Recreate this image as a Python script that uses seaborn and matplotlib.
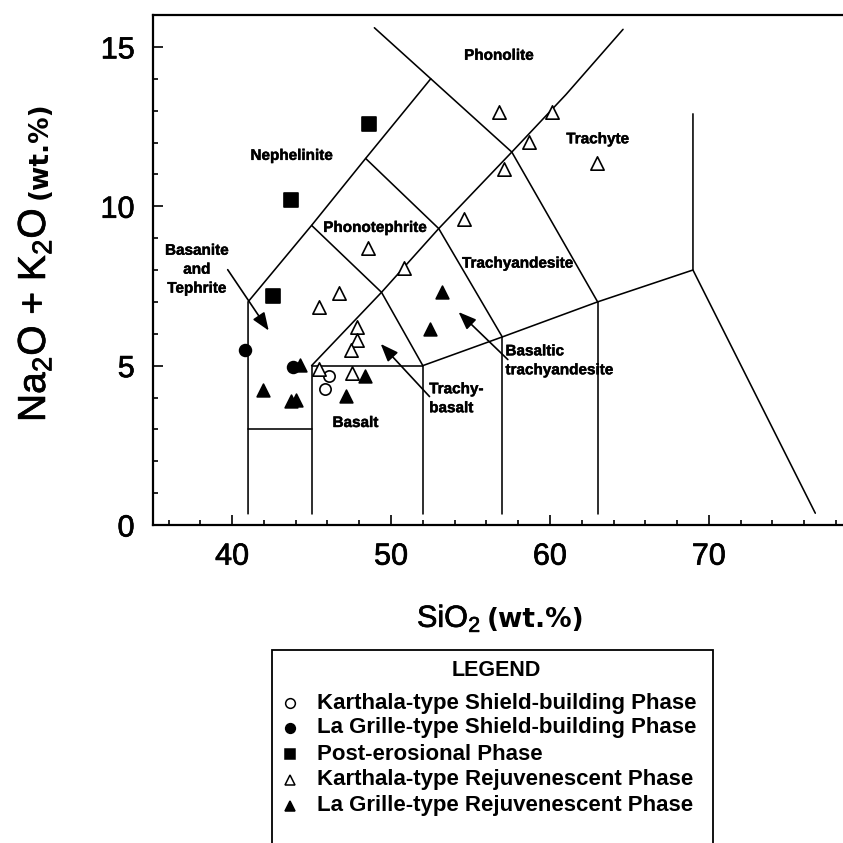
import matplotlib
matplotlib.use("Agg")
import matplotlib.pyplot as plt
import matplotlib.patheffects as pe
import numpy as np
import pandas as pd
import seaborn as sns
from matplotlib.lines import Line2D
from matplotlib.patches import Rectangle
from matplotlib.ticker import MultipleLocator

# ---------------- sample compositions (wt.%) ----------------
karthala_shield_sio2 = [46.10, 45.87]
karthala_shield_alk = [4.68, 4.26]

lagrille_shield_sio2 = [40.84, 43.82]
lagrille_shield_alk = [5.50, 4.96]

post_erosional_sio2 = [48.64, 43.71, 42.56]
post_erosional_alk = [12.57, 10.21, 7.18]

karthala_rejuv_sio2 = [56.78, 60.11, 58.67, 57.09, 62.97, 54.58, 48.53, 50.84,
                       46.71, 45.49, 47.84, 47.84, 47.49, 45.45, 47.55]
karthala_rejuv_alk = [12.96, 12.96, 12.01, 11.16, 11.35, 9.61, 8.70, 8.07,
                      7.28, 6.84, 6.21, 5.79, 5.50, 4.90, 4.77]

lagrille_rejuv_sio2 = [53.22, 52.42, 44.28, 48.33, 41.97, 43.71, 44.03, 47.17]
lagrille_rejuv_alk = [7.30, 6.15, 5.03, 4.68, 4.24, 3.88, 3.93, 4.06]

phase_names = [
    "Karthala-type Shield-building Phase",
    "La Grille-type Shield-building Phase",
    "Post-erosional Phase",
    "Karthala-type Rejuvenescent Phase",
    "La Grille-type Rejuvenescent Phase",
]
phase_sio2 = [karthala_shield_sio2, lagrille_shield_sio2, post_erosional_sio2,
              karthala_rejuv_sio2, lagrille_rejuv_sio2]
phase_alk = [karthala_shield_alk, lagrille_shield_alk, post_erosional_alk,
             karthala_rejuv_alk, lagrille_rejuv_alk]
phase_markers = ["o", "o", "s", "^", "^"]
phase_filled = [False, True, True, False, True]
phase_sizes = [66, 72, 100, 92, 84]

# ---------------- TAS classification boundaries ----------------
tas_boundaries = [
    [(41, 0.35), (41, 7), (45, 9.4), (48.4, 11.5), (52.5, 14)],
    [(41, 3), (45, 3)],
    [(45, 0.35), (45, 5), (52, 5), (52, 0.35)],
    [(45, 5), (49.4, 7.3), (53, 9.3), (57.6, 11.7), (61, 13.5), (64.6, 15.55)],
    [(45, 9.4), (49.4, 7.3), (52, 5)],
    [(48.4, 11.5), (53, 9.3), (57, 5.9)],
    [(48.95, 15.6), (52.5, 14), (57.6, 11.7), (63, 7)],
    [(52, 5), (57, 5.9), (63, 7), (69, 8)],
    [(57, 0.35), (57, 5.9)],
    [(63, 0.35), (63, 7)],
    [(69, 12.9), (69, 8), (76.7, 0.37)],
]

field_labels = [
    ("Phonolite", 56.8, 14.72, "center"),
    ("Trachyte", 63.0, 12.1, "center"),
    ("Nephelinite", 43.76, 11.58, "center"),
    ("Phonotephrite", 49.0, 9.32, "center"),
    ("Basanite\nand\nTephrite", 37.78, 8.01, "center"),
    ("Trachyandesite", 57.97, 8.2, "center"),
    ("Basaltic\ntrachyandesite", 57.2, 5.15, "left"),
    ("Trachy-\nbasalt", 52.4, 3.96, "left"),
    ("Basalt", 47.76, 3.2, "center"),
]

# arrow: (tail x, tail y, head x, head y)
field_arrows = [
    (39.72, 8.01, 42.30, 6.10),
    (52.42, 4.03, 49.35, 5.68),
    (57.35, 5.19, 54.25, 6.68),
]

# ---------------- figure ----------------
sns.set_style("ticks")
plt.rcParams["font.family"] = ["Liberation Sans", "DejaVu Sans"]
plt.rcParams["mathtext.fontset"] = "custom"
plt.rcParams["mathtext.rm"] = "Liberation Sans"
for key in ["text.color", "axes.labelcolor", "xtick.color", "ytick.color",
            "axes.edgecolor"]:
    plt.rcParams[key] = "black"

# slightly heavier strokes for the printed lettering
heavy = [pe.withStroke(linewidth=0.5, foreground="black")]
light = [pe.withStroke(linewidth=0.3, foreground="black")]

W = 843.0
fig = plt.figure(figsize=(8.43, 8.43), dpi=100)
fig.patch.set_facecolor("white")
ax = fig.add_axes([152.7 / W, 318 / W, (W - 152.7) / W, 510 / W])
ax.set_facecolor("white")

for seg in tas_boundaries:
    xs, ys = zip(*seg)
    ax.plot(xs, ys, color="black", lw=1.15, zorder=2, solid_joinstyle="miter")

rows = []
for name, xs, ys in zip(phase_names, phase_sio2, phase_alk):
    for x, y in zip(xs, ys):
        rows.append({"SiO2": x, "alkali": y, "phase": name})
df = pd.DataFrame(rows)

for name, mk, filled, size in zip(phase_names, phase_markers, phase_filled, phase_sizes):
    sub = df[df["phase"] == name]
    sns.scatterplot(data=sub, x="SiO2", y="alkali", marker=mk, s=size,
                    color="black" if filled else "white", edgecolor="black",
                    linewidth=1.2, ax=ax, legend=False, zorder=4)

for text, x, y, ha in field_labels:
    ax.text(x, y, text, ha=ha, va="center", fontsize=11, fontweight="bold",
            linespacing=1.45, color="black", zorder=5, path_effects=light)

for x0, y0, x1, y1 in field_arrows:
    ax.annotate("", xy=(x1, y1), xytext=(x0, y0),
                arrowprops=dict(arrowstyle="-|>,head_length=0.9,head_width=0.35",
                                color="black", lw=1.2, shrinkA=0, shrinkB=0,
                                mutation_scale=12), zorder=5)

ax.set_xlim(35, 35 + (W - 152.7) / 15.89)
ax.set_ylim(0, 16)
ax.xaxis.set_major_locator(MultipleLocator(10))
ax.xaxis.set_minor_locator(MultipleLocator(2))
ax.yaxis.set_major_locator(MultipleLocator(5))
ax.yaxis.set_minor_locator(MultipleLocator(1))
ax.tick_params(which="both", direction="in", width=1.2, colors="black",
               labelcolor="black", top=False, right=False)
ax.tick_params(which="major", length=7.5, labelsize=22)
ax.tick_params(axis="x", which="major", pad=12)
ax.tick_params(axis="y", which="major", pad=13)
ax.tick_params(which="minor", length=3.6)
ax.set_xlabel("")
ax.set_ylabel("")
for lab in ax.get_xticklabels() + ax.get_yticklabels():
    lab.set_path_effects(heavy)
for side in ["left", "bottom", "top"]:
    ax.spines[side].set_linewidth(1.6)
    ax.spines[side].set_color("black")
ax.spines["right"].set_visible(False)

# axis titles: formula plus smaller unit text
fig.canvas.draw()
renderer = fig.canvas.get_renderer()

ylab = fig.text(45 / W, (W - 422) / W, r"Na$_\mathregular{2}$O + K$_\mathregular{2}$O",
                rotation=90, rotation_mode="anchor", ha="left", va="baseline",
                fontsize=28, color="black", path_effects=heavy)
bb = ylab.get_window_extent(renderer)
fig.text(47 / W, (bb.y1 + 9) / W, "(wt.%)", rotation=90, rotation_mode="anchor",
         ha="left", va="baseline", fontsize=19, fontweight="bold",
         family="DejaVu Sans", color="black")

xlab = fig.text(417 / W, (W - 627) / W, r"SiO$_\mathregular{2}$", ha="left",
                va="baseline", fontsize=22, color="black", path_effects=heavy)
bb = xlab.get_window_extent(renderer)
fig.text((bb.x1 + 6) / W, (W - 627) / W, "(wt.%)", ha="left", va="baseline",
         fontsize=19, fontweight="bold", family="DejaVu Sans", color="black")

# legend panel
box_left, box_right, box_top = 272, 713, 650
fig.add_artist(Rectangle((box_left / W, -0.05), (box_right - box_left) / W,
                         (W - box_top) / W + 0.05, transform=fig.transFigure,
                         fill=False, edgecolor="black", lw=1.3))
fig.text(496 / W, (W - 670) / W, "LEGEND", ha="center", va="center",
         fontsize=15.5, fontweight="bold", color="black")
row_y = [703, 728, 754, 780, 806]
for name, mk, filled, yy in zip(phase_names, phase_markers, phase_filled, row_y):
    fig.add_artist(Line2D([290 / W], [(W - yy) / W], marker=mk, markersize=7,
                          markerfacecolor="black" if filled else "white",
                          markeredgecolor="black", markeredgewidth=1.1,
                          linestyle="none", transform=fig.transFigure))
    fig.text(317 / W, (W - yy) / W, name, ha="left", va="center",
             fontsize=16, fontweight="bold", color="black")

fig.savefig("out.png", dpi=100, facecolor="white")
